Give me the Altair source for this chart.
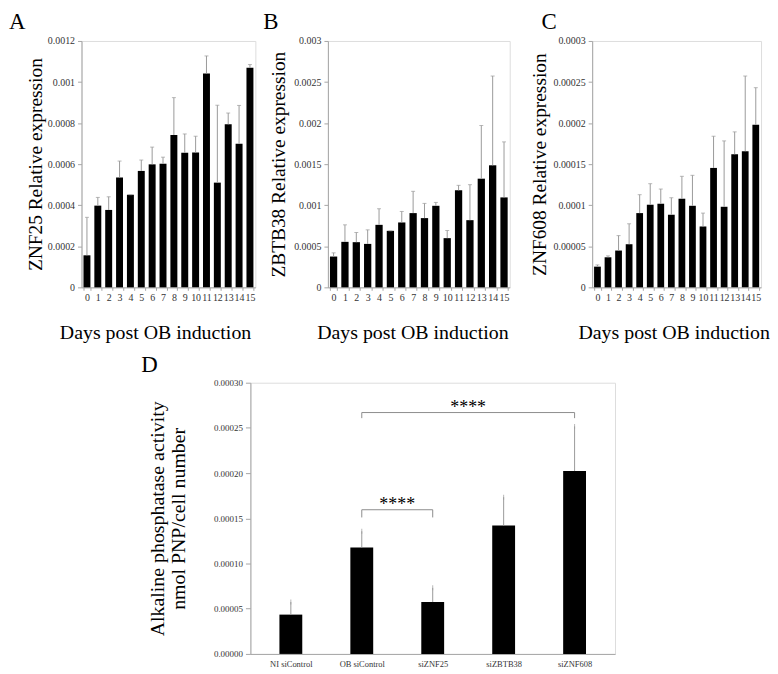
import altair as alt
import pandas as pd

FONT = "Liberation Serif"
AXIS_GRAY = "#a6a6a6"
ERR_GRAY = "#9a9a9a"
LABEL_COLOR = "#333333"

# ---------------- data ----------------
days = [str(d) for d in range(16)]

znf25_mean = [0.000156, 0.000398, 0.000377, 0.000535, 0.000451, 0.000567, 0.000599, 0.000602,
              0.000742, 0.000655, 0.000657, 0.001042, 0.000510, 0.000794, 0.000699, 0.001069]
znf25_upper = [0.000341, 0.000438, 0.000441, 0.000615, 0.000451, 0.000620, 0.000683, 0.000634,
               0.000924, 0.000747, 0.000736, 0.001127, 0.000887, 0.000849, 0.000886, 0.001085]

zbtb38_mean = [0.000375, 0.000554, 0.000550, 0.000529, 0.000761, 0.000688, 0.000790, 0.000904,
               0.000843, 0.000993, 0.000599, 0.001181, 0.000818, 0.001323, 0.001486, 0.001095]
zbtb38_upper = [0.000420, 0.000761, 0.000668, 0.000700, 0.000957, 0.000688, 0.000924, 0.001169,
                0.001022, 0.001034, 0.000692, 0.001242, 0.001250, 0.001971, 0.002573, 0.001771]

znf608_mean = [0.0000252, 0.0000366, 0.0000448, 0.0000525, 0.0000904, 0.0001006, 0.0001018, 0.0000884,
               0.0001079, 0.0000993, 0.0000741, 0.0001454, 0.0000981, 0.0001620, 0.0001657, 0.0001979]
znf608_upper = [0.0000273, 0.0000383, 0.0000630, 0.0000774, 0.0001128, 0.0001262, 0.0001197, 0.0001091,
                0.0001352, 0.0001364, 0.0000904, 0.0001840, 0.0001783, 0.0001893, 0.0002573, 0.0002431]

znf25_ticks = [0, 0.0002, 0.0004, 0.0006, 0.0008, 0.001, 0.0012]
zbtb38_ticks = [0, 0.0005, 0.001, 0.0015, 0.002, 0.0025, 0.003]
znf608_ticks = [0, 0.00005, 0.0001, 0.00015, 0.0002, 0.00025, 0.0003]

groups = ["NI siControl", "OB siControl", "siZNF25", "siZBTB38", "siZNF608"]
alp_mean = [0.0000435, 0.0001178, 0.0000574, 0.0001420, 0.0002023]
alp_upper = [0.0000574, 0.0001357, 0.0000731, 0.0001734, 0.0002517]
alp_ticks = [0, 0.00005, 0.0001, 0.00015, 0.0002, 0.00025, 0.0003]

# significance brackets (group index from / to, bracket level, tip end, label)
br_from = [1, 1]
br_to = [2, 4]
br_level = [0.0001595, 0.0002670]
br_tip = [0.0001510, 0.0002608]
br_label = ["****", "****"]

x_title = "Days post OB induction"
letters = ["A", "B", "C", "D"]


def time_panel(letter, mean, upper, ticks, ytitle, width, height,
               letter_x, ytitle_x, xtitle_x, left_edge=None):
    df = pd.DataFrame({"day": days, "value": mean, "upper": upper})
    base = alt.Chart(df)
    xenc = alt.X(
        "day:N", sort=days,
        scale=alt.Scale(paddingInner=0.36, paddingOuter=0.18),
        axis=alt.Axis(
            title=x_title, labelAngle=0, labelFont=FONT, labelFontSize=10,
            labelColor=LABEL_COLOR, labelPadding=2, tickBand="extent", tickSize=3,
            tickColor=AXIS_GRAY, domainColor=AXIS_GRAY, grid=False,
            titleFont=FONT, titleFontSize=20, titleFontWeight="normal", titleColor="black",
            titleX=xtitle_x, titleY=45, titleAlign="center", titleBaseline="middle",
        ),
    )
    yenc = alt.Y(
        "value:Q",
        scale=alt.Scale(domain=[ticks[0], ticks[-1]], nice=False, zero=True),
        axis=alt.Axis(
            values=ticks, format="~f", title=ytitle, labelFont=FONT, labelFontSize=10,
            labelColor=LABEL_COLOR, labelPadding=3, tickSize=4, tickColor=AXIS_GRAY,
            domainColor=AXIS_GRAY, grid=False,
            titleFont=FONT, titleFontSize=19.5, titleFontWeight="normal", titleColor="black",
            titleX=ytitle_x, titleY=height / 2, titleAlign="center", titleBaseline="middle",
        ),
    )
    bars = base.mark_bar(color="black").encode(x=xenc, y=yenc)
    err = base.mark_rule(color=ERR_GRAY, strokeWidth=1).encode(
        x=alt.X("day:N", sort=days), y="value:Q", y2="upper:Q")
    cap = base.mark_tick(color=ERR_GRAY, size=4, thickness=1).encode(
        x=alt.X("day:N", sort=days), y="upper:Q")
    lab = alt.Chart(pd.DataFrame({"t": [letter]})).mark_text(
        font=FONT, fontSize=23, align="left", baseline="top", color="black"
    ).encode(text="t:N", x=alt.value(letter_x), y=alt.value(-30))
    layers = [bars, err, cap, lab]
    if left_edge is not None:
        edge = alt.Chart(pd.DataFrame({"t": [letter]})).mark_rule(
            strokeOpacity=0, opacity=0
        ).encode(x=alt.value(left_edge), y=alt.value(0), y2=alt.value(2))
        layers.append(edge)
    return alt.layer(*layers).properties(width=width, height=height)


A = time_panel(letters[0], znf25_mean, znf25_upper, znf25_ticks, "ZNF25 Relative expression",
               175, 248, -73, -46, 74)
B = time_panel(letters[1], zbtb38_mean, zbtb38_upper, zbtb38_ticks, "ZBTB38 Relative expression",
               183, 248, -65, -50, 85)
C = time_panel(letters[2], znf608_mean, znf608_upper, znf608_ticks, "ZNF608 Relative expression",
               170, 248, -51, -53, 82, left_edge=-75)

row1 = alt.hconcat(A, B, C, spacing=6)

# ---------------- panel D ----------------
D_W, D_H = 367, 273
ddf = pd.DataFrame({"idx": list(range(len(groups))), "group": groups,
                    "value": alp_mean, "upper": alp_upper})
label_expr = "[" + ",".join("'" + g + "'" for g in groups) + "][datum.value]"

dx = alt.X("idx:Q", scale=alt.Scale(domain=[-0.5, len(groups) - 0.5], nice=False, zero=False),
           axis=alt.Axis(values=list(range(len(groups))), labelExpr=label_expr, title=None,
                         labelFont=FONT, labelFontSize=8.5, labelColor=LABEL_COLOR,
                         labelPadding=6, ticks=False, domainColor=AXIS_GRAY, grid=False))
dy = alt.Y("value:Q", scale=alt.Scale(domain=[alp_ticks[0], alp_ticks[-1]], nice=False),
           axis=alt.Axis(values=alp_ticks, format=".5f",
                         title=["Alkaline phosphatase activity", "nmol PNP/cell  number"],
                         labelFont=FONT, labelFontSize=9, labelColor=LABEL_COLOR,
                         labelPadding=3, tickSize=5, tickColor=AXIS_GRAY,
                         domainColor=AXIS_GRAY, grid=False,
                         titleFont=FONT, titleFontSize=20, titleFontWeight="normal",
                         titleColor="black", titleLineHeight=21,
                         titleX=-93, titleY=D_H / 2, titleAlign="center",
                         titleBaseline="middle"))

dbase = alt.Chart(ddf)
dbars = dbase.mark_bar(color="black", size=23).encode(x=dx, y=dy)
derr = dbase.mark_rule(color=ERR_GRAY, strokeWidth=1).encode(x="idx:Q", y="value:Q", y2="upper:Q")
dcap = dbase.mark_tick(color=ERR_GRAY, size=5, thickness=1).encode(x="idx:Q", y="upper:Q")

bdf = pd.DataFrame({"x1": br_from, "x2": br_to, "level": br_level, "tip": br_tip,
                    "label": br_label})
bdf["mid"] = (bdf["x1"] + bdf["x2"]) / 2
tips = pd.DataFrame({"x": br_from + br_to, "level": br_level + br_level, "tip": br_tip + br_tip})

bline = alt.Chart(bdf).mark_rule(color="#8c8c8c", strokeWidth=1).encode(
    x="x1:Q", x2="x2:Q", y="level:Q")
btip = alt.Chart(tips).mark_rule(color="#8c8c8c", strokeWidth=1).encode(
    x="x:Q", y="tip:Q", y2="level:Q")
bstar = alt.Chart(bdf).mark_text(font=FONT, fontSize=18, baseline="alphabetic",
                                 align="center", color="black").encode(
    x="mid:Q", y="level:Q", text="label:N")
dlab = alt.Chart(pd.DataFrame({"t": [letters[3]]})).mark_text(
    font=FONT, fontSize=23, align="left", baseline="top", color="black"
).encode(text="t:N", x=alt.value(-110), y=alt.value(-29))

D = alt.layer(dbars, derr, dcap, bline, btip, bstar, dlab).properties(width=D_W, height=D_H)

spacer = alt.Chart(pd.DataFrame({"v": [0]})).mark_point(opacity=0, size=1).encode(
    x=alt.value(0), y=alt.value(0)).properties(
    width=59, height=2, view=alt.ViewBackground(strokeOpacity=0, fillOpacity=0))

row2 = alt.hconcat(spacer, D, spacing=0)

chart = alt.vconcat(row1, row2, spacing=10).properties(
    padding={"left": 0, "top": 0, "right": 0, "bottom": 0}
).configure_view(strokeOpacity=0).configure(background="white")

chart.save("out.html", embed_options={"renderer": "svg", "actions": False})
